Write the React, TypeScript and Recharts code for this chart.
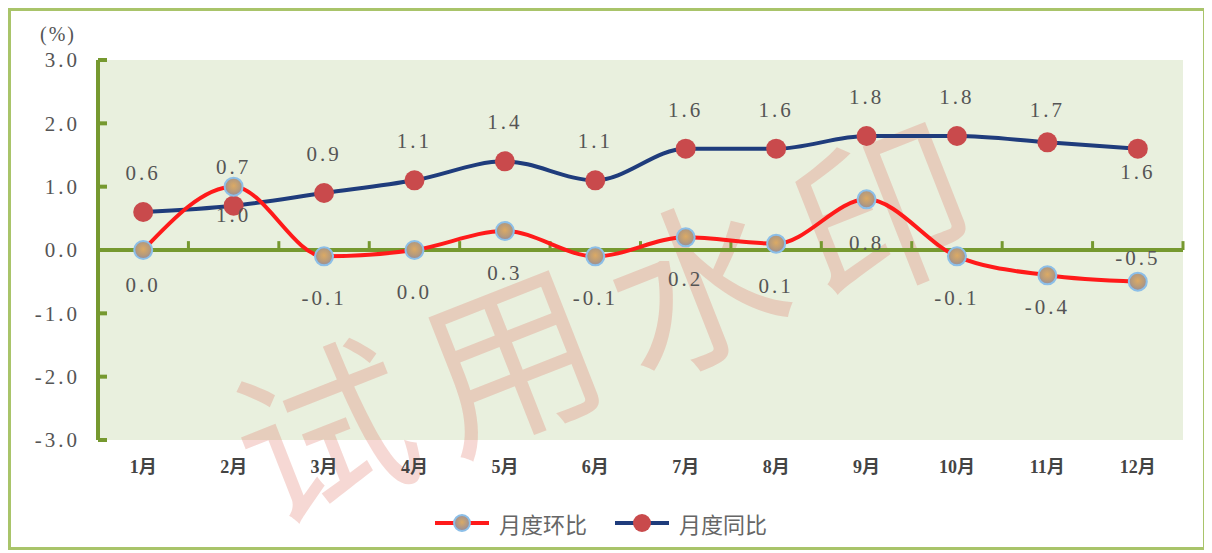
import React from 'react'
import { LineChart, Line, XAxis, YAxis, CartesianGrid, ReferenceLine, LabelList, Legend } from 'recharts'

const months = ['1月', '2月', '3月', '4月', '5月', '6月', '7月', '8月', '9月', '10月', '11月', '12月']
const monthOnMonth = [0.0, 1.0, -0.1, 0.0, 0.3, -0.1, 0.2, 0.1, 0.8, -0.1, -0.4, -0.5]
const yearOnYear = [0.6, 0.7, 0.9, 1.1, 1.4, 1.1, 1.6, 1.6, 1.8, 1.8, 1.7, 1.6]
const yTicks = [-3, -2, -1, 0, 1, 2, 3]
const boundaryTicks = [1.5, 2.5, 3.5, 4.5, 5.5, 6.5, 7.5, 8.5, 9.5, 10.5, 11.5, 12.5]

const data = months.map((m, i) => ({ x: i + 1, month: m, hb: monthOnMonth[i], tb: yearOnYear[i] }))

const GREEN = '#76992f'
const NUM_FONT = '"Liberation Serif", "Noto Sans CJK SC", serif'

// label placement tweaks, like the hand-moved labels in the original
const hbLabelDy: Record<number, number> = { 0: 35, 1: 28, 8: 44, 10: 32, 11: -24 }
const tbLabelDy: Record<number, number> = { 10: -32, 11: 23 }

const numLabel = (x: number, y: number, value: any) => (
    <text x={x} y={y} textAnchor="middle" dominantBaseline="central" fontSize={21} letterSpacing={3}
        fill="#555" fontFamily={NUM_FONT}>
        {Number(value).toFixed(1)}
    </text>
)

const hbLabel = (props: any) => {
    const { x, y, value, index } = props
    const dy = hbLabelDy[index] ?? 42
    return numLabel(x, y + dy, value)
}

const tbLabel = (props: any) => {
    const { x, y, value, index } = props
    const dy = tbLabelDy[index] ?? -39
    return numLabel(x, y + dy, value)
}

const hbDot = (props: any) => {
    const { cx, cy, index } = props
    return <circle key={'hb' + index} cx={cx} cy={cy} r={9} fill="url(#hbGrad)" stroke="#8cbfe8" strokeWidth={2} />
}

const tbDot = (props: any) => {
    const { cx, cy, index } = props
    return <circle key={'tb' + index} cx={cx} cy={cy} r={10} fill="#c94a4c" />
}

const renderLegend = () => (
    <div style={{ display: 'flex', justifyContent: 'center', alignItems: 'center', gap: 12 }}>
        {[
            { name: '月度环比', line: '#ff1a1a', dot: 'hb' },
            { name: '月度同比', line: '#1f3c7c', dot: 'tb' },
        ].map((it) => (
            <div key={it.name} style={{ display: 'flex', alignItems: 'center', marginRight: 14 }}>
                <svg width={58} height={22}>
                    <defs>
                        <radialGradient id={'lg' + it.dot} cx="50%" cy="45%" r="60%">
                            <stop offset="0%" stopColor="#d9aa66" />
                            <stop offset="100%" stopColor="#8d8aa3" />
                        </radialGradient>
                    </defs>
                    <line x1={2} y1={11} x2={56} y2={11} stroke={it.line} strokeWidth={4} />
                    {it.dot === 'hb'
                        ? <circle cx={29} cy={11} r={8} fill={'url(#lg' + it.dot + ')'} stroke="#8cbfe8" strokeWidth={2} />
                        : <circle cx={29} cy={11} r={9} fill="#c94a4c" />}
                </svg>
                <span style={{ marginLeft: 8, fontSize: 22, color: '#666', fontFamily: '"Noto Sans CJK SC", sans-serif' }}>
                    {it.name}
                </span>
            </div>
        ))}
    </div>
)

export default function App() {
    return (
        <div style={{ position: 'relative', width: 1192, height: 536, border: '3px solid #a9c46a', background: '#fff', overflow: 'hidden' }}>
            <LineChart width={1192} height={536} data={data} margin={{ top: 49, right: 20, bottom: 77, left: 0 }}>
                <defs>
                    <radialGradient id="hbGrad" cx="50%" cy="45%" r="60%">
                        <stop offset="0%" stopColor="#dcaa64" />
                        <stop offset="60%" stopColor="#b59a7c" />
                        <stop offset="100%" stopColor="#8a88a6" />
                    </radialGradient>
                </defs>
                <CartesianGrid horizontal={false} vertical={false} fill="#e9f0de" />
                <g>
                    <text x={600} y={298} textAnchor="middle" dominantBaseline="central" fontSize={176}
                        letterSpacing={24} fill="rgba(220, 110, 95, 0.27)" fontFamily='"Noto Sans CJK SC", sans-serif'
                        transform="rotate(-21.5, 600, 298)">
                        试用水印
                    </text>
                </g>
                <XAxis dataKey="x" type="number" domain={[0.5, 12.5]} ticks={data.map((d) => d.x)}
                    tickFormatter={(v: number) => months[v - 1]} axisLine={false} tickLine={false} tickSize={0}
                    tickMargin={20} height={30} interval={0}
                    tick={{ fontSize: 18, fill: '#444', fontFamily: NUM_FONT, fontWeight: 'bold' }} />
                <YAxis type="number" domain={[-3, 3]} ticks={yTicks} width={87}
                    tickFormatter={(v: number) => v.toFixed(1)}
                    axisLine={{ stroke: GREEN, strokeWidth: 4 }} tickLine={{ stroke: GREEN, strokeWidth: 4 }}
                    tickSize={-9} tickMargin={27}
                    tick={{ fontSize: 21, fill: '#555', fontFamily: NUM_FONT, letterSpacing: 3 }} />
                <ReferenceLine y={0} stroke={GREEN} strokeWidth={4} />
                {boundaryTicks.map((b) => (
                    <ReferenceLine key={b} segment={[{ x: b, y: 0 }, { x: b, y: 0.14 }]} stroke={GREEN} strokeWidth={3} />
                ))}
                <Line type="monotone" dataKey="tb" name="月度同比" stroke="#1f3c7c" strokeWidth={4}
                    dot={tbDot} activeDot={false} isAnimationActive={false}>
                    <LabelList dataKey="tb" content={tbLabel} />
                </Line>
                <Line type="monotone" dataKey="hb" name="月度环比" stroke="#ff1a1a" strokeWidth={4}
                    dot={hbDot} activeDot={false} isAnimationActive={false}>
                    <LabelList dataKey="hb" content={hbLabel} />
                </Line>
                <Legend layout="horizontal" verticalAlign="middle" align="center" content={renderLegend}
                    wrapperStyle={{ top: 496, left: 0, width: 1192 }} />
            </LineChart>
            <span style={{ position: 'absolute', left: 29, top: 12, fontSize: 20, letterSpacing: 2, color: '#555', fontFamily: NUM_FONT }}>
                (%)
            </span>
        </div>
    )
}
